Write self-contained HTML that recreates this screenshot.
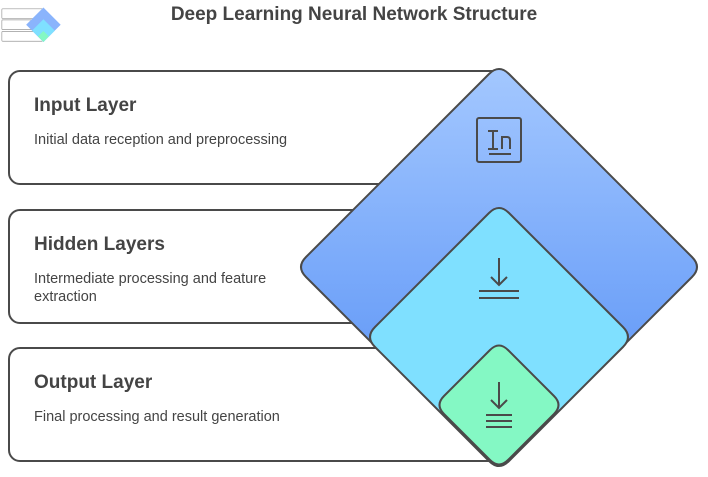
<!DOCTYPE html>
<html><head><meta charset="utf-8"><style>
body{margin:0;width:708px;height:477px;background:#fff;overflow:hidden;font-family:"Liberation Sans",sans-serif;position:relative}
.t{position:absolute;left:0;width:708px;top:4px;text-align:center;font-weight:bold;font-size:19px;color:#444}
.card{position:absolute;left:8px;width:500px;height:115px;border:2px solid #4a4a4a;border-radius:12px;box-sizing:border-box;background:#fff}
.card h2{position:absolute;left:24px;top:23px;margin:0;font-size:19px;color:#444}
.card p{position:absolute;left:24px;top:59px;margin:0;font-size:14.5px;color:#444;width:250px;line-height:18px}
svg{position:absolute;left:0;top:0}
</style></head><body>
<div class="t">Deep Learning Neural Network Structure</div>
<div class="card" style="top:70px"><h2>Input Layer</h2><p style="width:320px">Initial data reception and preprocessing</p></div>
<div class="card" style="top:209px"><h2>Hidden Layers</h2><p>Intermediate processing and feature extraction</p></div>
<div class="card" style="top:347px"><h2>Output Layer</h2><p style="width:320px">Final processing and result generation</p></div>
<svg width="708" height="477">
<defs><linearGradient id="g" x1="0" y1="65" x2="0" y2="340" gradientUnits="userSpaceOnUse"><stop offset="0" stop-color="#a4c8ff"/><stop offset="1" stop-color="#6b9ff8"/></linearGradient></defs>
<g stroke="#4a4a4a" stroke-width="2">
<path fill="url(#g)" d="M489,74 Q499,64 509,74 L692,257 Q702,267 692,277 L509,460 Q499,470 489,460 L306,277 Q296,267 306,257 Z"/>
<path fill="#7fe0ff" d="M489,213 Q499,203 509,213 L623,327 Q633,337 623,347 L509,461 Q499,471 489,461 L375,347 Q365,337 375,327 Z"/>
<path fill="#84f8c4" d="M490,350 Q499,341 508,350 L554,396 Q563,405 554,414 L508,460 Q499,469 490,460 L444,414 Q435,405 444,396 Z"/>
</g>
<g stroke="#4a4a4a" stroke-width="2" fill="none">
<rect x="477" y="118" width="44" height="44" rx="2"/>
<path d="M488 131h10M493 131v18M488 149h10M489 154h22M502 149v-12h5q3 0 3 3v9"/>
<path d="M499 258v27M491 277l8 8 8-8M479 291h40M479 298h40"/>
<path d="M499 382v26M491 400l8 8 8-8M486 415h26M486 421h26M486 427h26"/>
</g>
<g transform="translate(1,2) scale(0.085)">
<rect x="10" y="80" width="480" height="115" rx="10" fill="#fff" stroke="#999" stroke-width="8"/>
<rect x="10" y="210" width="480" height="115" rx="10" fill="#fff" stroke="#999" stroke-width="8"/>
<rect x="10" y="347" width="480" height="115" rx="10" fill="#fff" stroke="#999" stroke-width="8"/>
<path fill="#8ab4fc" d="M499,64 L702,267 L499,470 L296,267 Z"/>
<path fill="#7fe0ff" d="M499,203 L633,337 L499,471 L365,337 Z"/>
<path fill="#84f8c4" d="M499,341 L563,405 L499,469 L435,405 Z"/>
</g>
</svg>
</body></html>
